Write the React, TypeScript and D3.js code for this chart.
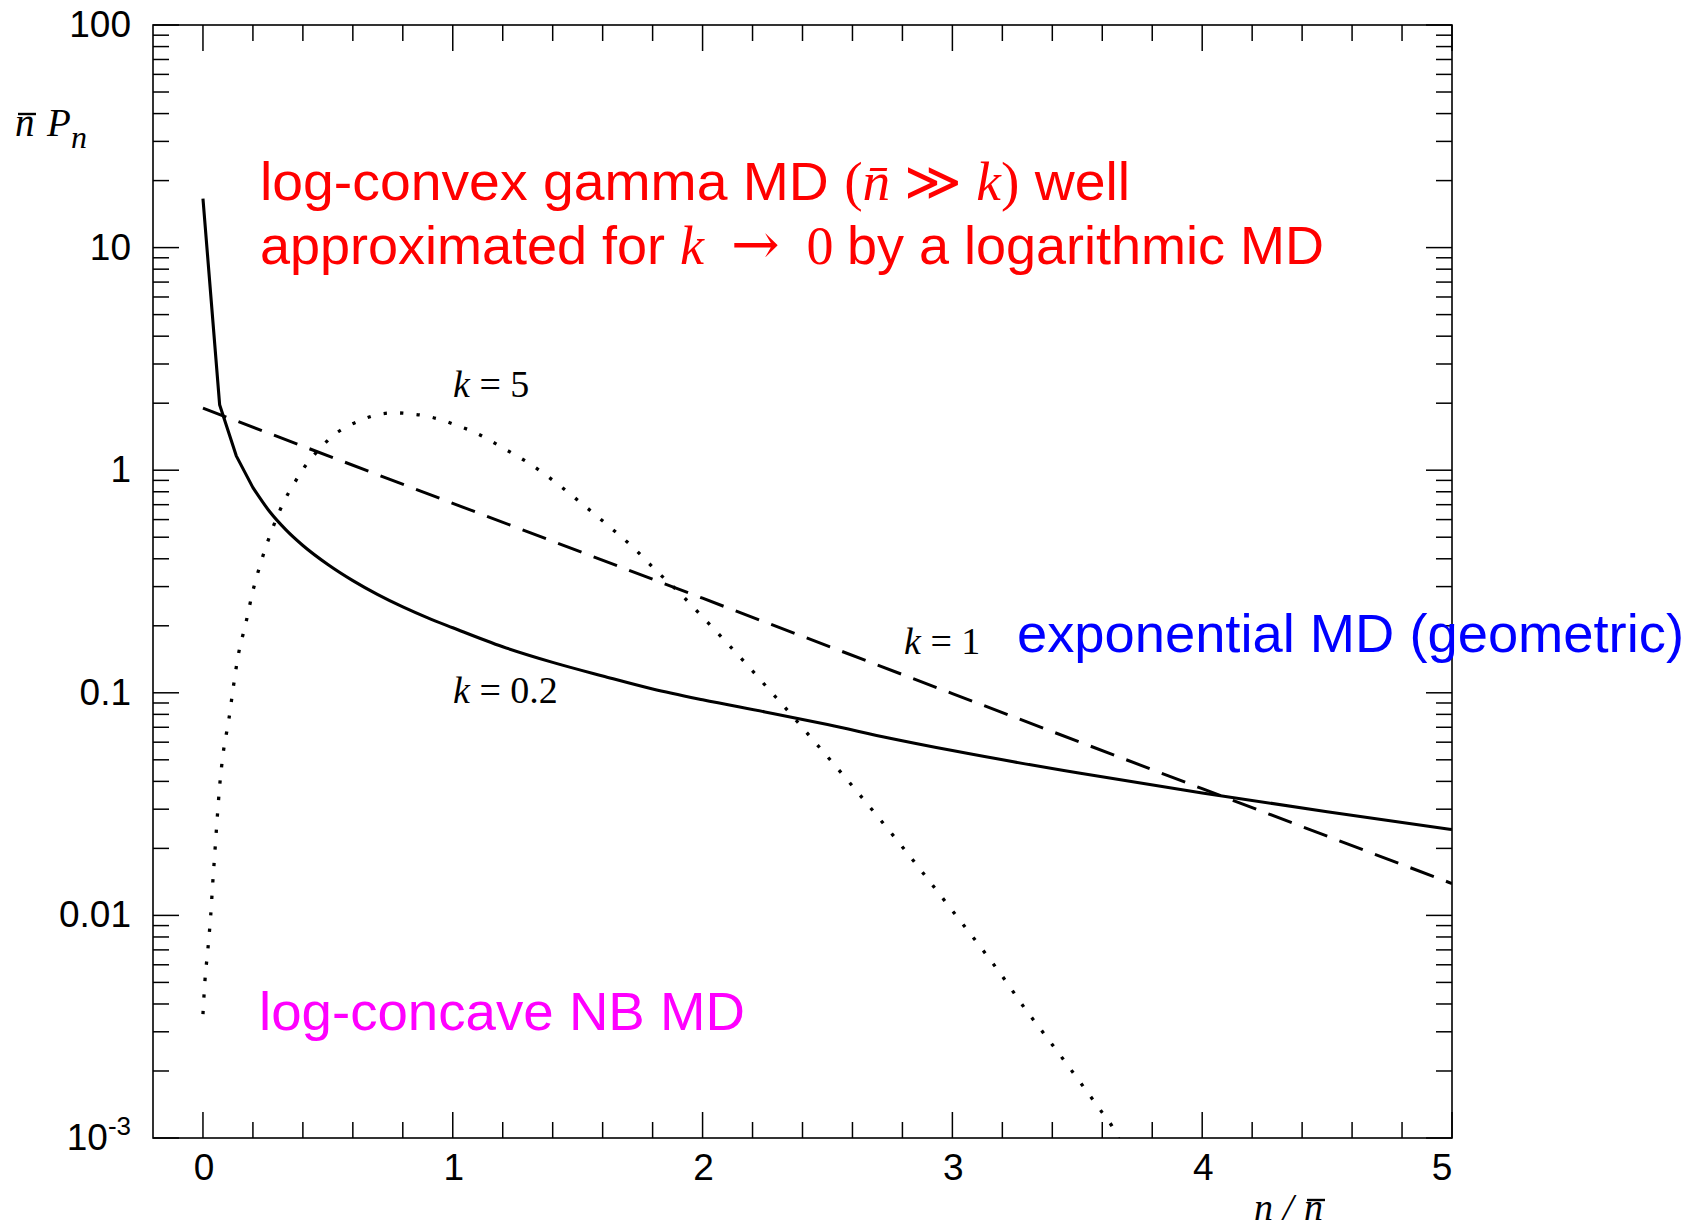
import React, { useRef, useEffect } from 'react';
import * as d3 from 'd3';

const WIDTH = 1695;
const HEIGHT = 1229;

// k = 0.2 (solid, log-convex gamma)
const k02X = [0, 0.0667, 0.1333, 0.2, 0.2667, 0.3333, 0.4, 0.5, 0.6, 0.7, 0.8, 0.9, 1.0, 1.2, 1.4, 1.6, 1.8, 2.0, 2.25, 2.5, 2.75, 3.0, 3.5, 4.0, 4.5, 5.0];
const k02Y = [16.6, 1.97, 1.16, 0.835, 0.652, 0.538, 0.459, 0.377, 0.319, 0.276, 0.243, 0.217, 0.196, 0.161, 0.137, 0.119, 0.104, 0.093, 0.082, 0.072, 0.0625, 0.055, 0.0437, 0.0355, 0.0292, 0.0243];

// k = 1 (dashed, exponential)
const k1X = [0, 1, 2, 3, 4, 5];
const k1Y = [1.9, 0.71, 0.266, 0.0992, 0.0371, 0.0139];

// k = 5 (dotted, log-concave NB)
const k5X = [0, 0.008, 0.02, 0.031, 0.039, 0.048, 0.057, 0.067, 0.081, 0.103, 0.121, 0.141, 0.171, 0.199, 0.235, 0.277, 0.33, 0.361, 0.395, 0.435, 0.478, 0.526, 0.579, 0.639, 0.702, 0.769, 0.831, 0.895, 0.96, 1.022, 1.082, 1.2, 1.313, 1.418, 1.52, 1.621, 1.72, 1.813, 1.908, 1.997, 2.088, 2.177, 2.264, 2.35, 2.392, 2.6, 2.8, 3.0, 3.211, 3.288, 3.367, 3.446, 3.523, 3.6, 3.639, 3.68];
const k5Y = [0.0036, 0.0051, 0.0071, 0.01, 0.0139, 0.0195, 0.0273, 0.0383, 0.0536, 0.075, 0.105, 0.147, 0.204, 0.284, 0.395, 0.542, 0.745, 0.857, 0.99, 1.135, 1.285, 1.445, 1.575, 1.69, 1.78, 1.81, 1.79, 1.75, 1.675, 1.58, 1.49, 1.26, 1.06, 0.87, 0.703, 0.565, 0.452, 0.355, 0.281, 0.221, 0.172, 0.134, 0.104, 0.081, 0.0714, 0.0381, 0.0203, 0.0105, 0.00512, 0.00385, 0.00294, 0.00224, 0.00171, 0.0013, 0.00113, 0.00092];

const xMajor = [0, 1, 2, 3, 4, 5];
const xLabels = ['0', '1', '2', '3', '4', '5'];
const yMajor = [1e-3, 1e-2, 0.1, 1, 10, 100];
const yLabels = ['10', '0.01', '0.1', '1', '10', '100'];

const SANS = '"Liberation Sans", Arial, Helvetica, sans-serif';
const SERIF = '"Liberation Serif", "DejaVu Serif", "Times New Roman", serif';

const App = () => {
  const svgRef = useRef(null);

  useEffect(() => {
    const svg = d3.select(svgRef.current);
    svg.selectAll('*').remove();

    const left = 153, right = 1452, top = 25, bottom = 1138;
    const x = d3.scaleLinear().domain([-0.2, 5]).range([left, right]);
    const y = d3.scaleLog().domain([1e-3, 100]).range([bottom, top]);

    svg.append('defs').append('clipPath').attr('id', 'plot-clip')
      .append('rect')
      .attr('x', left).attr('y', top)
      .attr('width', right - left).attr('height', bottom - top);

    // frame
    svg.append('rect')
      .attr('x', left).attr('y', top)
      .attr('width', right - left).attr('height', bottom - top)
      .attr('fill', 'none').attr('stroke', '#000').attr('stroke-width', 1.6);

    const ticks = svg.append('g').attr('stroke', '#000').attr('stroke-width', 1.5);
    const majorLen = 26, minorLen = 16;

    // x ticks (top and bottom, pointing inward)
    const xMinor = d3.range(0, 26).map(i => +(i * 0.2 - 0.2).toFixed(2))
      .filter(v => v > -0.2 && v < 5 && Math.abs(v - Math.round(v)) > 1e-6);
    xMinor.forEach(v => {
      ticks.append('line').attr('x1', x(v)).attr('x2', x(v)).attr('y1', bottom).attr('y2', bottom - minorLen);
      ticks.append('line').attr('x1', x(v)).attr('x2', x(v)).attr('y1', top).attr('y2', top + minorLen);
    });
    xMajor.forEach(v => {
      ticks.append('line').attr('x1', x(v)).attr('x2', x(v)).attr('y1', bottom).attr('y2', bottom - majorLen);
      ticks.append('line').attr('x1', x(v)).attr('x2', x(v)).attr('y1', top).attr('y2', top + majorLen);
    });

    // y ticks (left and right)
    const yMinor = [];
    [1e-3, 1e-2, 0.1, 1, 10].forEach(d => {
      for (let m = 2; m <= 9; m++) yMinor.push(m * d);
    });
    yMinor.forEach(v => {
      ticks.append('line').attr('x1', left).attr('x2', left + minorLen).attr('y1', y(v)).attr('y2', y(v));
      ticks.append('line').attr('x1', right).attr('x2', right - minorLen).attr('y1', y(v)).attr('y2', y(v));
    });
    yMajor.forEach(v => {
      ticks.append('line').attr('x1', left).attr('x2', left + majorLen).attr('y1', y(v)).attr('y2', y(v));
      ticks.append('line').attr('x1', right).attr('x2', right - majorLen).attr('y1', y(v)).attr('y2', y(v));
    });

    // tick labels
    xMajor.forEach((v, i) => {
      svg.append('text')
        .attr('x', x(v) + (i === xMajor.length - 1 ? -10 : 1))
        .attr('y', bottom + 42)
        .attr('text-anchor', 'middle')
        .style('font-family', SANS).style('font-size', '37px')
        .text(xLabels[i]);
    });
    yMajor.forEach((v, i) => {
      const t = svg.append('text')
        .attr('x', 131)
        .attr('y', y(v) + 12)
        .attr('text-anchor', 'end')
        .style('font-family', SANS).style('font-size', '37px');
      if (v === 1e-3) {
        t.append('tspan').text(yLabels[i]);
        t.append('tspan').attr('dy', -15).style('font-size', '26px').text('-3');
      } else {
        t.text(yLabels[i]);
      }
    });

    // axis titles
    const ttl = svg.append('g').style('font-family', SERIF).style('font-style', 'italic');
    ttl.append('text').attr('x', 15).attr('y', 136).style('font-size', '39px').text('n');
    ttl.append('line').attr('x1', 18).attr('x2', 36).attr('y1', 114).attr('y2', 114)
      .attr('stroke', '#000').attr('stroke-width', 2.4);
    ttl.append('text').attr('x', 47).attr('y', 136).style('font-size', '39px').text('P');
    ttl.append('text').attr('x', 71).attr('y', 148).style('font-size', '32px').text('n');

    ttl.append('text').attr('x', 1254).attr('y', 1220).style('font-size', '38px').text('n');
    ttl.append('text').attr('x', 1283).attr('y', 1220).style('font-size', '38px').text('/');
    ttl.append('text').attr('x', 1304).attr('y', 1220).style('font-size', '38px').text('n');
    ttl.append('line').attr('x1', 1307).attr('x2', 1325).attr('y1', 1200).attr('y2', 1200)
      .attr('stroke', '#000').attr('stroke-width', 2.4);

    // curves
    const pts02 = k02X.map((v, i) => [v, k02Y[i]]);
    const linear = d3.line().x(d => x(d[0])).y(d => y(d[1]));
    const smooth = d3.line().x(d => x(d[0])).y(d => y(d[1])).curve(d3.curveMonotoneX);
    const plot = svg.append('g').attr('clip-path', 'url(#plot-clip)');

    plot.append('path')
      .attr('d', linear(pts02.slice(0, 4)) + smooth(pts02.slice(3)).replace(/^M[^CLc]*/, m => 'L' + m.slice(1)))
      .attr('fill', 'none').attr('stroke', '#000').attr('stroke-width', 3.1)
      .attr('stroke-linejoin', 'round');

    plot.append('path')
      .attr('d', linear(k1X.map((v, i) => [v, k1Y[i]])))
      .attr('fill', 'none').attr('stroke', '#000').attr('stroke-width', 3)
      .attr('stroke-dasharray', '25,13');

    plot.append('path')
      .attr('d', smooth(k5X.map((v, i) => [v, k5Y[i]])))
      .attr('fill', 'none').attr('stroke', '#000').attr('stroke-width', 3.3)
      .attr('stroke-dasharray', '3.3,13.2');

    // curve labels
    const kLabel = (px, py, val) => {
      const t = svg.append('text').attr('x', px).attr('y', py)
        .style('font-family', SERIF).style('font-size', '38px');
      t.append('tspan').style('font-style', 'italic').text('k');
      t.append('tspan').text(' = ' + val);
    };
    kLabel(453, 397, '5');
    kLabel(904, 654, '1');
    kLabel(453, 703, '0.2');

    // annotations
    const red1 = svg.append('text').attr('x', 260).attr('y', 200)
      .attr('fill', '#ff0000').style('font-family', SANS).style('font-size', '54px')
      .attr('textLength', 870).attr('lengthAdjust', 'spacingAndGlyphs');
    red1.append('tspan').text('log-convex gamma MD ');
    red1.append('tspan').style('font-family', SERIF).text('(');
    red1.append('tspan').style('font-family', SERIF).style('font-style', 'italic').text('n\u0304');
    red1.append('tspan').style('font-family', SERIF).text(' \u226B ');
    red1.append('tspan').style('font-family', SERIF).style('font-style', 'italic').text('k');
    red1.append('tspan').style('font-family', SERIF).text(')');
    red1.append('tspan').text(' well');

    const red2 = svg.append('text').attr('x', 260).attr('y', 264)
      .attr('fill', '#ff0000').style('font-family', SANS).style('font-size', '54px')
      .attr('textLength', 1064).attr('lengthAdjust', 'spacingAndGlyphs');
    red2.append('tspan').text('approximated for ');
    red2.append('tspan').style('font-family', SERIF).style('font-style', 'italic').text('k');
    red2.append('tspan').style('font-family', SERIF).text('\u2002');
    red2.append('tspan').style('font-family', '"DejaVu Serif", serif').style('font-size', '58px').text('\u2192');
    red2.append('tspan').style('font-family', SERIF).text('\u20020 ');
    red2.append('tspan').text('by a logarithmic MD');

    svg.append('text').attr('x', 1017).attr('y', 652)
      .attr('fill', '#0000ff').style('font-family', SANS).style('font-size', '54px')
      .attr('textLength', 667).attr('lengthAdjust', 'spacingAndGlyphs')
      .text('exponential MD (geometric)');

    svg.append('text').attr('x', 259).attr('y', 1030)
      .attr('fill', '#ff00ff').style('font-family', SANS).style('font-size', '54px')
      .attr('textLength', 486).attr('lengthAdjust', 'spacingAndGlyphs')
      .text('log-concave NB MD');
  }, []);

  return (
    <svg
      ref={svgRef}
      width={WIDTH}
      height={HEIGHT}
      style={{ position: 'absolute', left: 0, top: 0, background: '#fff' }}
    />
  );
};

export default App;
